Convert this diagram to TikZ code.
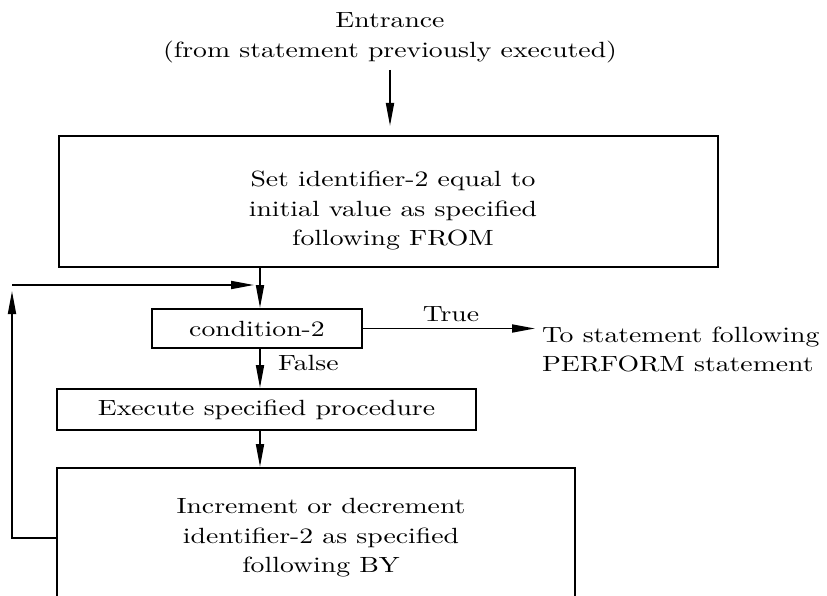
\documentclass[tikz,border=0pt]{standalone}
\usepackage{fontspec}
\setmainfont{lmroman10}[Extension=.otf, UprightFont=*-regular, FakeStretch=1.26]
\usetikzlibrary{arrows.meta}
\begin{document}
\begin{tikzpicture}[x=1pt,y=-1pt,
  line width=2pt,
  every node/.style={font=\fontsize{22}{29.5}\selectfont, inner sep=0pt},
  box/.style={draw, rectangle, line width=2pt},
  arr/.style={-{Triangle[length=23pt,width=8pt]}, line width=1.8pt},
  lbl/.style={align=center}]
\useasboundingbox (0,0) rectangle (827,596);
% entrance
\node[lbl] (entr) at (390,38) {Entrance\\(from statement previously executed)};
% top box
\node[box, minimum width=659pt, minimum height=131pt] (top) at (388.5,201.5) {};
\node[lbl] (toptext) at (393,211) {Set identifier-2 equal to\\initial value as specified\\following FROM};
\draw[arr, shorten <=6pt, shorten >=9pt] (entr.south) -- (entr.south |- top.north);
% condition
\node[box, minimum width=210pt, minimum height=39pt] (cond) at (257,328.5) {condition-2};
\coordinate (junc) at (260,285);
\draw[arr] (top.south -| junc) -- (cond.north -| junc);
% true exit
\node[anchor=west, align=left] (out) at (541,349.5) {To statement following\\PERFORM statement};
\draw[arr, shorten >=6pt] (cond.east) -- (cond.east -| out.west);
\node (truelbl) at (451,314) {True};
% execute
\node[box, minimum width=419pt, minimum height=41pt] (exec) at (266.5,409.5) {Execute specified procedure};
\draw[arr] (cond.south -| junc) -- (exec.north -| junc);
\node[anchor=west] (falselbl) at (277,363) {False};
% increment
\node[box, minimum width=518pt, minimum height=150pt] (inc) at (316,543) {};
\node[lbl] (inctext) at (321,538) {Increment or decrement\\identifier-2 as specified\\following BY};
\draw[arr] (exec.south -| junc) -- (inc.north -| junc);
% feedback loop
\coordinate (fbL) at (12,538);
\draw[arr, shorten >=6pt] (inc.west |- fbL) -- (fbL) -- (fbL |- junc);
\draw[arr, shorten >=6pt] (fbL |- junc) -- (junc);
\end{tikzpicture}
\end{document}
